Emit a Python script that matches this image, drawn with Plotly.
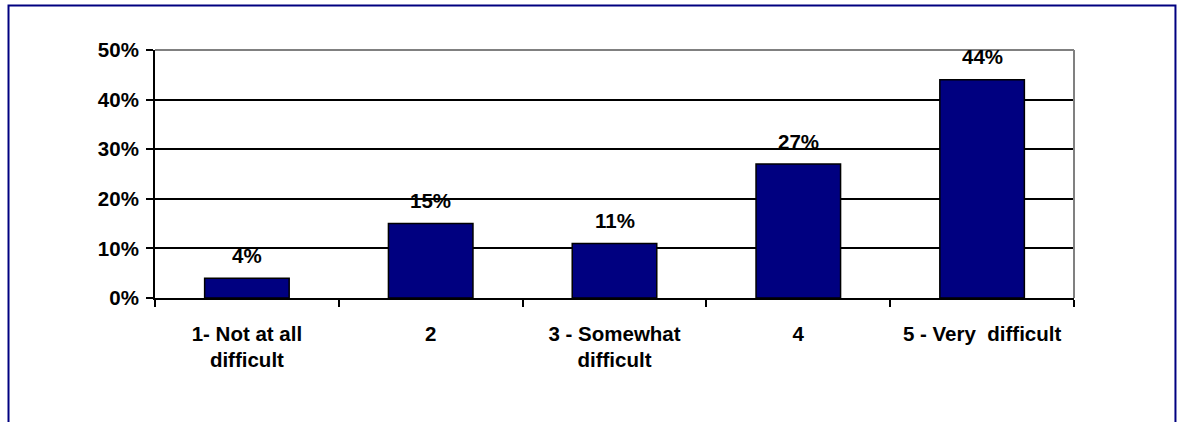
import plotly.graph_objects as go

categories = ["1- Not at all<br>difficult", "2", "3 - Somewhat<br>difficult", "4", "5 - Very\u00a0 difficult"]
values = [4, 15, 11, 27, 44]
y_ticks = [0, 10, 20, 30, 40, 50]
y_ticklabels = ["0%", "10%", "20%", "30%", "40%", "50%"]
value_labels = [f"{v}%" for v in values]

FONT = "Liberation Sans, Arial, sans-serif"
FS = 20.5

fig = go.Figure()
fig.add_trace(go.Bar(
    x=list(range(len(categories))), y=values, width=0.46,
    marker=dict(color="#000080", line=dict(color="#000000", width=1.5)),
    hoverinfo="skip",
))

for i, (v, t) in enumerate(zip(values, value_labels)):
    fig.add_annotation(x=i, y=v, xref="x", yref="y", text=f"<b>{t}</b>", showarrow=False,
                       yanchor="middle", yshift=23,
                       font=dict(family=FONT, size=FS, color="#000000"))

# plot area top and right borders (gray)
fig.add_shape(type="line", xref="paper", yref="paper", x0=0, x1=1, y0=1, y1=1,
              line=dict(color="#808080", width=2))
fig.add_shape(type="line", xref="paper", yref="paper", x0=1, x1=1, y0=0, y1=1,
              line=dict(color="#808080", width=2))
# outer navy frame
fig.add_shape(type="rect", xref="paper", yref="paper",
              x0=-0.1594, x1=1.1104, y0=-0.55, y1=1.1794,
              line=dict(color="#000080", width=2), fillcolor="rgba(0,0,0,0)")

fig.update_layout(
    width=1178, height=422,
    margin=dict(l=155, r=104, t=50, b=124),
    paper_bgcolor="white", plot_bgcolor="white",
    showlegend=False,
    font=dict(family=FONT, size=FS, color="#000000"),
)
fig.update_xaxes(
    type="linear", range=[-0.5, len(categories) - 0.5],
    tickvals=list(range(len(categories))), ticktext=categories,
    ticks="", showline=True, linecolor="black", linewidth=2,
    showgrid=False, zeroline=False, ticklabelstandoff=16,
    tickfont=dict(family=FONT, size=FS, color="black", weight="bold"),
    minor=dict(tickvals=[i - 0.5 for i in range(len(categories) + 1)],
               ticks="outside", ticklen=7, tickwidth=2, tickcolor="black", showgrid=False),
)
fig.update_yaxes(
    range=[0, 50], tickvals=y_ticks, ticktext=y_ticklabels,
    ticks="outside", ticklen=7, tickwidth=2, tickcolor="black",
    showline=True, linecolor="black", linewidth=2,
    showgrid=True, gridcolor="black", gridwidth=1.5, zeroline=False,
    ticklabelstandoff=3,
    tickfont=dict(family=FONT, size=FS, color="black", weight="bold"),
)

fig.write_html("out.html")
